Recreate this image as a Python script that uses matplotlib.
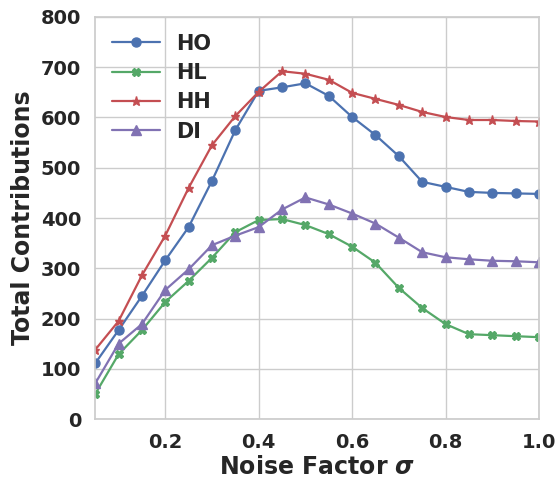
import matplotlib
matplotlib.use("Agg")
import matplotlib.pyplot as plt
import seaborn as sns

sigma = [0.05, 0.1, 0.15, 0.2, 0.25, 0.3, 0.35, 0.4, 0.45, 0.5,
         0.55, 0.6, 0.65, 0.7, 0.75, 0.8, 0.85, 0.9, 0.95, 1.0]

ho = [111, 177, 245, 316, 382, 474, 575, 653, 660, 668,
      643, 601, 565, 523, 472, 462, 452, 450, 449, 448]
hl = [50, 129, 177, 233, 275, 321, 372, 396, 398, 386,
      368, 343, 311, 261, 221, 189, 169, 167, 165, 163]
hh = [138, 195, 286, 365, 460, 545, 603, 651, 692, 687,
      675, 649, 637, 625, 611, 601, 595, 595, 593, 592]
di = [71, 150, 189, 257, 298, 346, 365, 382, 417, 441,
      427, 409, 389, 361, 332, 322, 318, 315, 314, 312]

sns.set_theme(style="whitegrid")
plt.rcParams['font.family'] = ['DejaVu Sans']
plt.rcParams['font.weight'] = 'bold'
plt.rcParams['mathtext.fontset'] = 'dejavusans'

pal = sns.color_palette("deep")

fig = plt.figure(figsize=(5.6, 4.84), dpi=100)
ax = fig.add_axes([0.170, 0.134, 0.7925, 0.831])

ax.plot(sigma, ho, marker='o', color=pal[0], lw=1.6, ms=6.5, label='HO')
ax.plot(sigma, hl, marker='X', color=pal[2], lw=1.6, ms=6, label='HL')
ax.plot(sigma, hh, marker='*', color=pal[3], lw=1.6, ms=6.5, label='HH')
ax.plot(sigma, di, marker='^', color=pal[4], lw=1.6, ms=6.5, label='DI')

ax.set_xlim(0.05, 1.0)
ax.set_ylim(0, 800)
ax.set_xticks([0.2, 0.4, 0.6, 0.8, 1.0])
ax.set_yticks(range(0, 801, 100))
ax.tick_params(labelsize=14, colors='#262626', pad=4)
for lab in ax.get_xticklabels() + ax.get_yticklabels():
    lab.set_fontweight('bold')

ax.set_xlabel(r'Noise Factor $\sigma$', fontsize=17, fontweight='bold', color='#262626', labelpad=2)
ax.set_ylabel('Total Contributions', fontsize=17, fontweight='bold', color='#262626', labelpad=4)

leg = ax.legend(loc='upper left', frameon=False, fontsize=15, handlelength=2.3,
                labelspacing=0.45, borderaxespad=0.4)
for t in leg.get_texts():
    t.set_fontweight('bold')
    t.set_color('#262626')

# panel title, mostly cut off at the top edge as in the source figure
fig.text(0.478, 1 - 1.5 / 484, '(a)', ha='center', va='bottom', fontsize=14, color='#262626')

fig.savefig('out.png', dpi=100)
